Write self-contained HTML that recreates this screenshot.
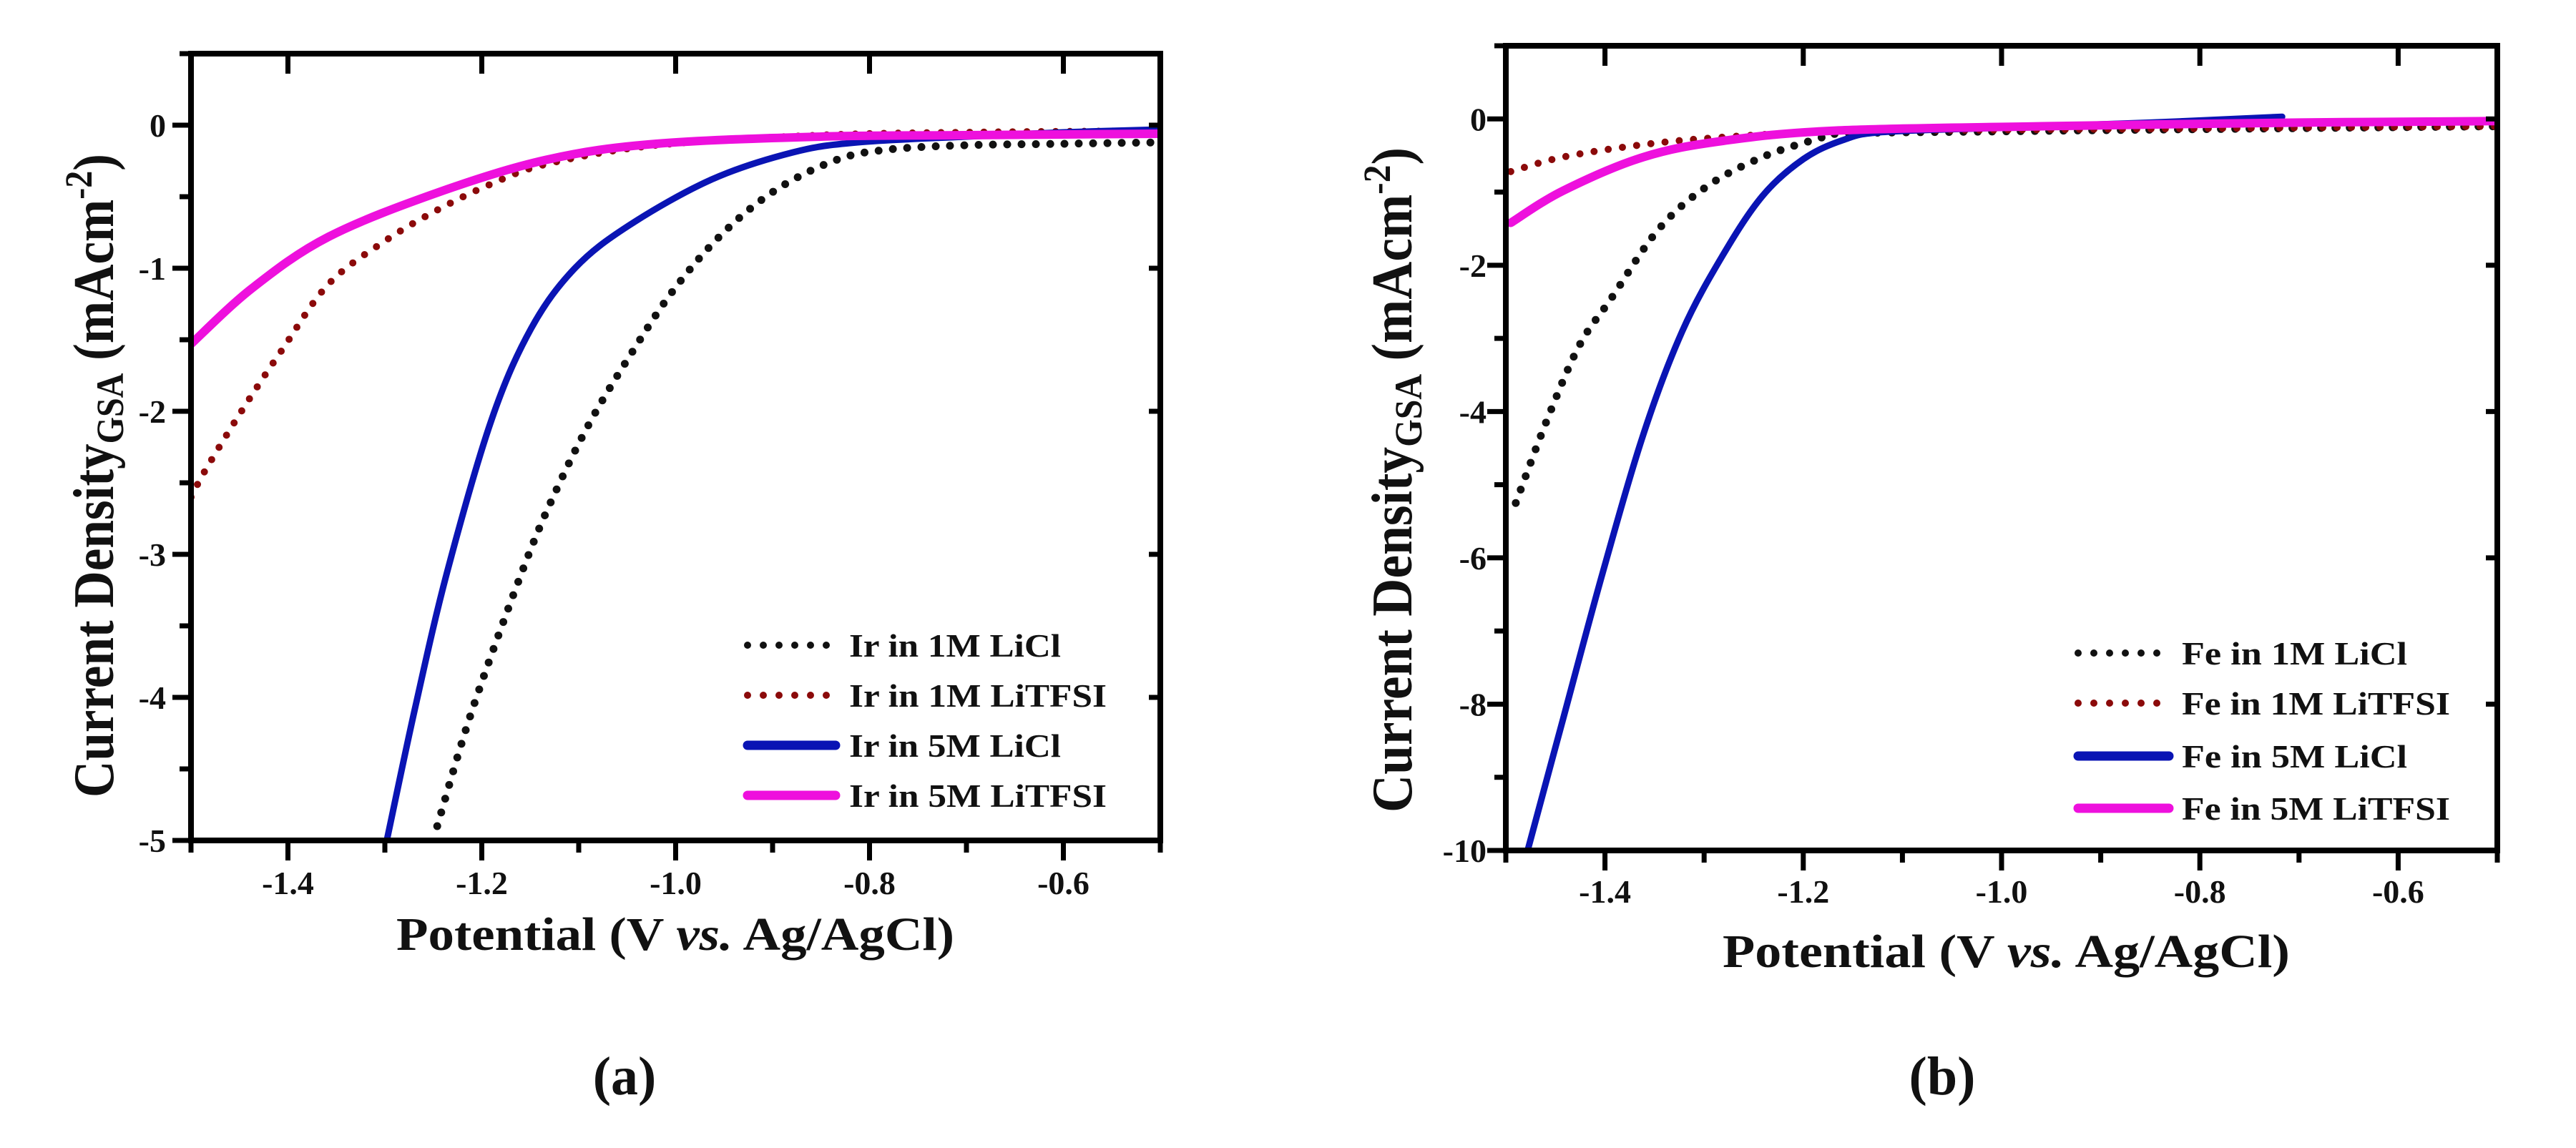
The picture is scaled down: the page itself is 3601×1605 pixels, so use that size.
<!DOCTYPE html>
<html><head><meta charset="utf-8"><style>
html,body{margin:0;padding:0;background:#fff}
svg{display:block}
text{font-family:"Liberation Serif",serif;font-weight:bold;fill:#111}
</style></head><body>
<svg id="fig" width="3601" height="1605" viewBox="0 0 3601 1605"></svg>
<script>
// ---------- Panel (a) data ----------
const aXTicks = [-1.4,-1.2,-1.0,-0.8,-0.6];
const aXTickLabels = ["-1.4","-1.2","-1.0","-0.8","-0.6"];
const aYTicks = [0,-1,-2,-3,-4,-5];
const aYTickLabels = ["0","-1","-2","-3","-4","-5"];
const aNames = ["Ir in 1M LiCl","Ir in 1M LiTFSI","Ir in 5M LiCl","Ir in 5M LiTFSI"];
const aIr1LiClV = [-1.246,-1.209,-1.155,-1.121,-1.087,-1.048,-1.003,-0.952,-0.896,-0.833,-0.78,-0.7,-0.6,-0.5];
const aIr1LiClJ = [-4.9,-4.07,-3.06,-2.52,-2.06,-1.62,-1.16,-0.76,-0.45,-0.24,-0.17,-0.14,-0.13,-0.12];
const aIr1TfsiV = [-1.5,-1.485,-1.448,-1.406,-1.358,-1.30,-1.245,-1.19,-1.132,-1.02,-0.85,-0.7,-0.5];
const aIr1TfsiJ = [-2.6,-2.41,-2.0,-1.57,-1.11,-0.81,-0.59,-0.41,-0.27,-0.14,-0.07,-0.05,-0.04];
const aIr5LiClV = [-1.298,-1.269,-1.236,-1.19,-1.149,-1.104,-1.048,-0.963,-0.879,-0.812,-0.7,-0.6,-0.5];
const aIr5LiClJ = [-5,-4.08,-3.13,-2.06,-1.42,-1.0,-0.70,-0.38,-0.19,-0.12,-0.08,-0.05,-0.03];
const aIr5TfsiV = [-1.5,-1.437,-1.358,-1.245,-1.132,-1.02,-0.85,-0.7,-0.5];
const aIr5TfsiJ = [-1.53,-1.14,-0.78,-0.47,-0.24,-0.13,-0.08,-0.07,-0.06];
// ---------- Panel (b) data ----------
const bXTicks = [-1.4,-1.2,-1.0,-0.8,-0.6];
const bXTickLabels = ["-1.4","-1.2","-1.0","-0.8","-0.6"];
const bYTicks = [0,-2,-4,-6,-8,-10];
const bYTickLabels = ["0","-2","-4","-6","-8","-10"];
const bNames = ["Fe in 1M LiCl","Fe in 1M LiTFSI","Fe in 5M LiCl","Fe in 5M LiTFSI"];
const bFe1LiClV = [-1.49,-1.458,-1.426,-1.394,-1.346,-1.297,-1.241,-1.185,-1.16,-1.0,-0.8,-0.5];
const bFe1LiClJ = [-5.25,-4.1,-3.1,-2.46,-1.51,-0.92,-0.52,-0.27,-0.2,-0.17,-0.14,-0.1];
const bFe1TfsiV = [-1.495,-1.442,-1.361,-1.281,-1.168,-1.0,-0.8,-0.5];
const bFe1TfsiJ = [-0.72,-0.52,-0.35,-0.25,-0.17,-0.15,-0.13,-0.1];
const bFe5LiClV = [-1.478,-1.442,-1.402,-1.361,-1.322,-1.281,-1.241,-1.2,-1.16,-1.12,-1.0,-0.85,-0.717];
const bFe5LiClJ = [-10,-8.19,-6.19,-4.3,-2.9,-1.86,-1.05,-0.55,-0.29,-0.18,-0.12,-0.05,0.03];
const bFe5TfsiV = [-1.495,-1.442,-1.361,-1.281,-1.168,-0.959,-0.7,-0.5];
const bFe5TfsiJ = [-1.42,-0.98,-0.52,-0.30,-0.16,-0.10,-0.05,-0.03];

const NS = "http://www.w3.org/2000/svg";
const svg = document.getElementById('fig');
function el(tag, attrs, parent){
  const e = document.createElementNS(NS, tag);
  for (const k in attrs) e.setAttribute(k, attrs[k]);
  (parent||svg).appendChild(e);
  return e;
}
function smoothPath(pts){
  let d = "M"+pts[0][0].toFixed(1)+","+pts[0][1].toFixed(1);
  for (let i=0;i<pts.length-1;i++){
    const p0=pts[Math.max(0,i-1)], p1=pts[i], p2=pts[i+1], p3=pts[Math.min(pts.length-1,i+2)];
    const c1=[p1[0]+(p2[0]-p0[0])/6, p1[1]+(p2[1]-p0[1])/6];
    const c2=[p2[0]-(p3[0]-p1[0])/6, p2[1]-(p3[1]-p1[1])/6];
    d += " C"+c1[0].toFixed(1)+","+c1[1].toFixed(1)+" "+c2[0].toFixed(1)+","+c2[1].toFixed(1)+" "+p2[0].toFixed(1)+","+p2[1].toFixed(1);
  }
  return d;
}
const styles = [
  {stroke:"#111", width:11, dash:"0 20", cap:"round"},
  {stroke:"#8b0a0a", width:10, dash:"0 20", cap:"round"},
  {stroke:"#0a14b4", width:9, dash:null, cap:"round"},
  {stroke:"#ee10dd", width:12, dash:null, cap:"round"}
];

function panel(cfg){
  const g = el('g', {});
  
  
  const L=cfg.L, R=cfg.R, T=cfg.T, B=cfg.B;
  const xs = v => L + (v - cfg.xmin)/(cfg.xmax-cfg.xmin)*(R-L);
  const ys = j => T + (cfg.ymax - j)/(cfg.ymax-cfg.ymin)*(B-T);

  const clip = el('clipPath', {id:cfg.id+'-clip'}, g);
  el('rect',{x:L,y:T-10,width:R-L,height:B-T+10},clip);
  const sg = el('g', {'clip-path':'url(#'+cfg.id+'-clip)'}, g);
  cfg.series.forEach((s,i)=>{
    const pts = s.v.map((v,k)=>[xs(v), ys(s.j[k])]);
    const st = styles[i];
    const p = el('path',{d:smoothPath(pts), fill:'none', stroke:st.stroke, 'stroke-width':st.width, 'stroke-linecap':st.cap, 'stroke-linejoin':'round'}, sg);
    if (st.dash) p.setAttribute('stroke-dasharray', st.dash);
    
    
  });

  const frame = el('rect',{x:L,y:T,width:R-L,height:B-T,fill:'none',stroke:'#000','stroke-width':8}, g);
  
  

  for (let v=cfg.xmin; v<=cfg.xmax+1e-9; v+=0.1){
    const x = xs(v);
    const major = cfg.xTicks.some(t=>Math.abs(t-v)<1e-6);
    el('line',{x1:x,y1:B,x2:x,y2:B+(major?28:17),stroke:'#000','stroke-width':7}, g);
    if (major) el('line',{x1:x,y1:T,x2:x,y2:T+28,stroke:'#000','stroke-width':7}, g);
  }
  cfg.xTicks.forEach((t,i)=>{
    const tx = el('text',{x:xs(t),y:cfg.xLabelY,'font-size':46,'text-anchor':'middle'}, g);
    tx.textContent = cfg.xTickLabels[i];
    
    
  });
  for (let j=cfg.ymin; j<=cfg.ymax+1e-9; j+=cfg.yMinorStep){
    const y = ys(j);
    const major = cfg.yTicks.some(t=>Math.abs(t-j)<1e-6);
    el('line',{x1:L-(major?26:16),y1:y,x2:L,y2:y,stroke:'#000','stroke-width':7}, g);
    if (major && y>T+5 && y<B-5) el('line',{x1:R-16,y1:y,x2:R,y2:y,stroke:'#000','stroke-width':7}, g);
  }
  cfg.yTicks.forEach((t,i)=>{
    const ty = el('text',{x:cfg.yLabelX,y:ys(t)+16,'font-size':46,'text-anchor':'end'}, g);
    ty.textContent = cfg.yTickLabels[i];
    
    
  });

  cfg.names.forEach((n,i)=>{
    const y = cfg.legY[i];
    const st = styles[i];
    const ln = el('line',{x1:cfg.legX1,y1:y,x2:cfg.legX2,y2:y,stroke:st.stroke,'stroke-width':st.dash?10:13,'stroke-linecap':'round'}, g);
    if (st.dash) ln.setAttribute('stroke-dasharray','0 22');
    
    
    const tx = el('text',{x:cfg.legTX,y:y+16,'font-size':46,textLength:cfg.legLen[i],lengthAdjust:'spacingAndGlyphs'}, g);
    tx.textContent = n;
    
    
  });

  const xt = el('text',{x:cfg.xTitleX,y:cfg.xTitleY,'font-size':66,textLength:cfg.xTitleLen,lengthAdjust:'spacingAndGlyphs'}, g);
  xt.innerHTML = 'Potential (V <tspan font-style="italic">vs.</tspan> Ag/AgCl)';
  
  

  const yt = el('text',{x:0,y:0,'font-size':80,'text-anchor':'middle',textLength:cfg.yTitleLen,lengthAdjust:'spacingAndGlyphs',transform:'translate('+cfg.yTitleX+','+cfg.yTitleCY+') rotate(-90)'}, g);
  yt.innerHTML = 'Current Density<tspan font-size="54" dy="14">GSA</tspan><tspan dy="-14"> (mAcm</tspan><tspan font-size="54" dy="-30">-2</tspan><tspan dy="30">)</tspan>';
  
  

  const pl = el('text',{x:cfg.panelX,y:1530,'font-size':76,'text-anchor':'middle'}, g);
  pl.textContent = cfg.panelLabel;
  
  
}

panel({id:'panel-a', L:267, R:1622, T:75, B:1175, xmin:-1.5, xmax:-0.5, ymin:-5, ymax:0.5, yMinorStep:0.5,
  xTicks:aXTicks, xTickLabels:aXTickLabels, yTicks:aYTicks, yTickLabels:aYTickLabels,
  xLabelY:1250, yLabelX:232,
  series:[{v:aIr1LiClV,j:aIr1LiClJ},{v:aIr1TfsiV,j:aIr1TfsiJ},{v:aIr5LiClV,j:aIr5LiClJ},{v:aIr5TfsiV,j:aIr5TfsiJ}],
  names:aNames, legY:[902,972,1042,1112], legX1:1045, legX2:1168, legTX:1187, legLen:[296,360,296,360],
  xTitleX:554, xTitleY:1328, xTitleLen:780, yTitleX:158, yTitleCY:665, yTitleLen:900,
  panelX:873, panelLabel:'(a)'});

panel({id:'panel-b', L:2105, R:3491, T:64, B:1189, xmin:-1.5, xmax:-0.5, ymin:-10, ymax:1, yMinorStep:1,
  xTicks:bXTicks, xTickLabels:bXTickLabels, yTicks:bYTicks, yTickLabels:bYTickLabels,
  xLabelY:1262, yLabelX:2078,
  series:[{v:bFe1LiClV,j:bFe1LiClJ},{v:bFe1TfsiV,j:bFe1TfsiJ},{v:bFe5LiClV,j:bFe5LiClJ},{v:bFe5TfsiV,j:bFe5TfsiJ}],
  names:bNames, legY:[913,983,1057,1130], legX1:2905, legX2:3032, legTX:3050, legLen:[315,375,315,375],
  xTitleX:2408, xTitleY:1352, xTitleLen:793, yTitleX:1973, yTitleCY:671, yTitleLen:930,
  panelX:2715, panelLabel:'(b)'});
</script>
</body></html>
